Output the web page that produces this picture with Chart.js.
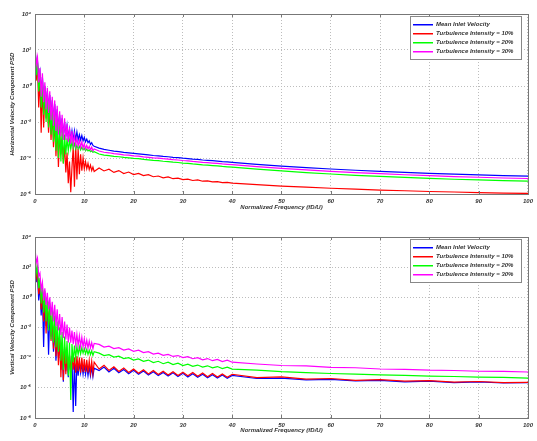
<!DOCTYPE html>
<html>
<head>
<meta charset="utf-8">
<script src="https://cdn.jsdelivr.net/npm/chart.js@4.4.1/dist/chart.umd.min.js"></script>
<style>
  body { margin: 0; background: #fff; }
  .plot { position: absolute; left: 0; width: 537px; }
</style>
</head>
<body>
<div class="plot" style="top:0;height:220px"><canvas id="hChart" width="537" height="220"></canvas></div>
<div class="plot" style="top:220px;height:221px"><canvas id="vChart" width="537" height="221"></canvas></div>
<script>
// normalized frequency fD/U
const freqLow = [0,0.25,0.5,0.75, 1,1.25,1.5,1.75, 2,2.25,2.5,2.75, 3,3.25,3.5,3.75, 4,4.25,4.5,4.75,
  5,5.25,5.5,5.75, 6,6.25,6.5,6.75, 7,7.25,7.5,7.75, 8,8.25,8.5,8.75, 9,9.25,9.5,9.75,
  10,10.25,10.5,10.75, 11,11.25,11.5,11.75, 12];
const freqTail = [13,14,15,16,17,18,19,20,21,22, 23,24,25,26,27,28,29,30,31,32, 33,34,35,36,37,38,39,40,
  45,50,55,60,65,70,75,80,85,90,95,100];
const freq = freqLow.concat(freqTail);

const seriesNames = ['Mean Inlet Velocity', 'Turbulence Intensity = 10%', 'Turbulence Intensity = 20%', 'Turbulence Intensity = 30%'];
const seriesColors = ['#0000ff', '#ff0000', '#00ff00', '#ff00ff'];

// log10(PSD), horizontal component
const hMean = [2.0,1.3,1.4,0.4, 0.8,-0.4,0.5,-0.7, 0.0,-1.1,-0.3,-1.3, -0.5,-1.7,-0.8,-2.0, -1.0,-2.3,-1.3,-2.5,
  -1.6,-2.6,-1.8,-2.8, -2.0,-2.8,-2.2,-2.9, -2.4,-3.0,-2.5,-3.05, -2.5,-3.0,-2.55,-3.0, -2.7,-3.0,-2.75,-3.05,
  -2.85,-3.1,-2.95,-3.15, -3.05,-3.25,-3.15,-3.3, -3.35,
  -3.45,-3.52,-3.57,-3.62,-3.65,-3.69,-3.71,-3.74,-3.77,-3.8,
  -3.83,-3.86,-3.88,-3.91,-3.93,-3.96,-3.98,-4.01,-4.03,-4.06,
  -4.08,-4.11,-4.13,-4.15,-4.17,-4.2,-4.22,-4.24,
  -4.35,-4.45,-4.53,-4.61,-4.68,-4.74,-4.8,-4.85,-4.9,-4.94,-4.98,-5.01];
const hTi10 = [2.1,0.3,1.2,-1.2, 0.6,-2.6,0.1,-2.3, -0.4,-1.8,-0.9,-2.6, -1.2,-3.0,-1.5,-3.4, -1.9,-3.9,-2.2,-4.5,
  -2.6,-3.8,-2.9,-4.3, -3.3,-4.8,-3.7,-5.4, -4.2,-5.9,-4.5,-3.4, -5.6,-3.2,-5.2,-3.5, -4.9,-3.8,-4.7,-4.0,
  -4.6,-4.2,-4.6,-4.3, -4.65,-4.4,-4.7,-4.5, -4.75,
  -4.55,-4.72,-4.62,-4.8,-4.7,-4.86,-4.78,-4.92,-4.86,-4.98,
  -4.93,-5.04,-5.0,-5.1,-5.05,-5.15,-5.12,-5.2,-5.17,-5.25,
  -5.22,-5.29,-5.27,-5.33,-5.31,-5.37,-5.35,-5.4,
  -5.48,-5.56,-5.62,-5.68,-5.73,-5.78,-5.82,-5.86,-5.89,-5.92,-5.95,-5.97];
const hTi20 = [2.0,0.6,1.3,-0.3, 0.7,-1.2,0.3,-1.6, -0.1,-2.0,-0.5,-2.3, -0.8,-2.7,-1.2,-3.1, -1.6,-3.6,-1.9,-4.0,
  -2.2,-4.2,-2.4,-4.3, -2.7,-3.8,-2.9,-3.6, -3.0,-3.5,-3.1,-3.45, -3.2,-3.5,-3.3,-3.5, -3.35,-3.55,-3.4,-3.55,
  -3.45,-3.6,-3.5,-3.6, -3.55,-3.65,-3.6,-3.68, -3.65,
  -3.78,-3.84,-3.87,-3.91,-3.93,-3.97,-3.99,-4.02,-4.04,-4.08,
  -4.1,-4.13,-4.15,-4.18,-4.2,-4.23,-4.25,-4.28,-4.3,-4.33,
  -4.35,-4.38,-4.4,-4.42,-4.44,-4.47,-4.49,-4.51,
  -4.62,-4.72,-4.81,-4.89,-4.96,-5.02,-5.08,-5.13,-5.18,-5.22,-5.26,-5.29];
const hTi30 = [2.3,1.2,1.6,0.2, 1.0,-0.6,0.7,-0.9, 0.2,-1.3,-0.1,-1.5, -0.3,-1.9,-0.6,-2.2, -0.8,-2.5,-1.1,-2.7,
  -1.4,-2.8,-1.6,-3.0, -1.8,-3.0,-2.1,-3.1, -2.3,-3.2,-2.5,-3.25, -2.7,-3.3,-2.9,-3.35, -3.0,-3.4,-3.1,-3.45,
  -3.2,-3.5,-3.3,-3.5, -3.35,-3.55,-3.4,-3.6, -3.5,
  -3.61,-3.68,-3.71,-3.76,-3.78,-3.83,-3.84,-3.88,-3.9,-3.94,
  -3.96,-3.99,-4.01,-4.04,-4.06,-4.09,-4.11,-4.14,-4.16,-4.19,
  -4.21,-4.24,-4.26,-4.28,-4.3,-4.33,-4.35,-4.37,
  -4.48,-4.58,-4.66,-4.74,-4.81,-4.87,-4.93,-4.98,-5.03,-5.07,-5.11,-5.14];

// log10(PSD), vertical component
const vMean = [2.8,1.0,1.6,-0.2, 0.9,-1.2,0.3,-3.3, -0.2,-1.9,-0.6,-3.8, -1.0,-2.6,-1.5,-3.6, -2.0,-4.2,-2.4,-4.0,
  -2.8,-4.8,-3.1,-5.6, -3.4,-4.9,-3.7,-5.3, -3.9,-5.0,-4.0,-7.6, -4.1,-7.2,-4.2,-5.2, -4.3,-5.0,-4.4,-5.1,
  -4.5,-5.1,-4.5,-5.2, -4.6,-5.2,-4.6,-5.25, -4.7,
  -4.85,-4.62,-4.95,-4.7,-5.0,-4.78,-5.06,-4.84,-5.1,-4.88,
  -5.15,-4.93,-5.18,-4.98,-5.22,-5.0,-5.25,-5.04,-5.28,-5.07,
  -5.3,-5.1,-5.33,-5.13,-5.35,-5.15,-5.37,-5.18,
  -5.38,-5.35,-5.47,-5.44,-5.54,-5.5,-5.6,-5.56,-5.65,-5.61,-5.68,-5.66];
const vTi10 = [2.9,1.3,1.8,0.2, 1.1,-0.8,0.6,-1.6, 0.1,-2.4,-0.3,-1.8, -0.7,-2.9,-1.2,-3.4, -1.7,-3.9,-2.2,-4.5,
  -2.6,-5.3,-3.0,-5.5, -3.3,-5.1,-3.6,-5.0, -3.8,-4.9,-3.9,-4.8, -4.0,-5.0,-3.9,-4.9, -4.0,-5.0,-4.0,-4.95,
  -4.1,-4.95,-4.15,-5.0, -4.2,-5.0,-4.25,-5.05, -4.3,
  -4.75,-4.5,-4.85,-4.6,-4.92,-4.68,-4.98,-4.75,-5.03,-4.8,
  -5.08,-4.85,-5.12,-4.9,-5.15,-4.93,-5.18,-4.96,-5.2,-4.99,
  -5.23,-5.02,-5.26,-5.05,-5.28,-5.08,-5.3,-5.1,
  -5.32,-5.28,-5.42,-5.38,-5.5,-5.46,-5.56,-5.52,-5.62,-5.58,-5.66,-5.64];
const vTi20 = [3.0,1.6,2.0,0.6, 1.3,-0.4,0.8,-1.0, 0.4,-1.6,0.0,-2.2, -0.4,-2.8,-0.8,-3.0, -1.2,-3.3,-1.6,-3.6,
  -2.0,-4.2,-2.3,-4.8, -2.6,-4.4,-2.9,-5.2, -3.0,-6.8,-3.1,-4.3, -3.2,-4.0,-3.25,-3.8, -3.3,-3.75,-3.35,-3.7,
  -3.4,-3.75,-3.45,-3.78, -3.5,-3.8,-3.55,-3.85, -3.6,
  -3.7,-3.86,-3.8,-3.96,-3.9,-4.06,-4.0,-4.16,-4.08,-4.24,
  -4.16,-4.32,-4.24,-4.4,-4.3,-4.46,-4.37,-4.52,-4.43,-4.58,
  -4.49,-4.63,-4.54,-4.68,-4.59,-4.72,-4.63,-4.76,
  -4.83,-4.93,-4.99,-5.05,-5.09,-5.14,-5.18,-5.22,-5.25,-5.29,-5.31,-5.35];
const vTi30 = [3.3,2.3,2.6,1.4, 1.6,0.5,1.0,-0.2, 0.6,-0.5,0.3,-0.8, 0.0,-1.2,-0.3,-1.6, -0.5,-1.9,-0.8,-2.2,
  -1.1,-2.5,-1.3,-2.7, -1.6,-2.8,-1.8,-3.0, -2.0,-3.0,-2.2,-3.1, -2.3,-3.15,-2.45,-3.2, -2.55,-3.25,-2.65,-3.3,
  -2.75,-3.3,-2.85,-3.35, -2.9,-3.35,-3.0,-3.4, -3.05,
  -3.12,-3.3,-3.24,-3.4,-3.34,-3.5,-3.42,-3.58,-3.5,-3.66,
  -3.6,-3.76,-3.7,-3.84,-3.78,-3.92,-3.86,-4.0,-3.93,-4.07,
  -4.0,-4.14,-4.06,-4.2,-4.12,-4.26,-4.17,-4.3,
  -4.42,-4.52,-4.55,-4.64,-4.67,-4.75,-4.77,-4.83,-4.85,-4.9,-4.91,-4.95];

// y tick exponents (labels 10^n)
const hTickExp = [4, 2, 0, -2, -4, -6];
const vTickExp = [4, 2, 0, -2, -4, -6, -8];
const xTicks = [0, 10, 20, 30, 40, 50, 60, 70, 80, 90, 100];

const supMap = {'0':'⁰','1':'¹','2':'²','3':'³','4':'⁴','5':'⁵','6':'⁶','7':'⁷','8':'⁸','9':'⁹','-':'⁻'};
function powLabel(e) {
  return '10' + String(e).split('').map(c => supMap[c]).join('');
}

const txtFont = { family: "'Liberation Sans', Arial, sans-serif", size: 6, style: 'italic', weight: 'bold' };
const txtColor = '#333';

const frame = {
  id: 'frame',
  afterDatasetsDraw(chart) {
    const { ctx, chartArea: a } = chart;
    ctx.save();
    ctx.strokeStyle = '#777';
    ctx.lineWidth = 1;
    ctx.strokeRect(a.left + 0.5, a.top + 0.5, a.right - a.left, a.bottom - a.top);
    // small inward ticks like matlab
    ctx.beginPath();
    const xs = chart.scales.x;
    xTicks.forEach(v => {
      const px = Math.round(xs.getPixelForValue(v)) + 0.5;
      ctx.moveTo(px, a.bottom); ctx.lineTo(px, a.bottom - 3);
      ctx.moveTo(px, a.top); ctx.lineTo(px, a.top + 3);
    });
    ctx.stroke();
    ctx.restore();
  }
};

const legendBox = {
  id: 'legendBox',
  afterDraw(chart) {
    const { ctx, chartArea: a } = chart;
    const bx = Math.round(a.right - 118), by = Math.round(a.top + 2), bw = 111, bh = 43;
    ctx.save();
    ctx.fillStyle = '#fff';
    ctx.fillRect(bx, by, bw, bh);
    ctx.strokeStyle = '#888';
    ctx.lineWidth = 1;
    ctx.strokeRect(bx + 0.5, by + 0.5, bw, bh);
    ctx.font = 'italic bold 6px ' + txtFont.family;
    ctx.textBaseline = 'middle';
    chart.data.datasets.forEach((ds, i) => {
      const ry = by + 8 + i * 9;
      ctx.fillStyle = ds.borderColor;
      ctx.fillRect(bx + 3, ry, 20, 1.5);
      ctx.fillStyle = txtColor;
      ctx.fillText(ds.label, bx + 26, ry + 0.5);
    });
    ctx.restore();
  }
};

function makeChart(id, series, tickExp, yTitle, padTop, xHeight, xTitlePad) {
  const datasets = series.map((vals, i) => ({
    label: seriesNames[i],
    data: freq.map((f, j) => ({ x: f, y: Math.pow(10, vals[j]) })),
    borderColor: seriesColors[i],
    borderWidth: 1.2,
    pointRadius: 0,
    tension: 0,
    order: 4 - i  // lowest order is drawn last, so 30% sits on top
  }));
  return new Chart(document.getElementById(id), {
    type: 'line',
    data: { datasets },
    options: {
      responsive: false,
      animation: false,
      devicePixelRatio: 1,
      layout: { padding: { left: 0, right: 2, top: padTop, bottom: 0 } },
      plugins: { legend: { display: false }, tooltip: { enabled: false } },
      scales: {
        x: {
          type: 'linear',
          min: 0,
          max: 100,
          afterBuildTicks: s => { s.ticks = xTicks.map(v => ({ value: v })); },
          afterFit: s => { s.height = xHeight; },
          grid: { color: '#bdbdbd', drawTicks: false },
          border: { display: false, dash: [1, 2] },
          ticks: { font: txtFont, color: txtColor, padding: 4, maxRotation: 0 },
          title: {
            display: true,
            text: 'Normalized Frequency (fD/U)',
            font: txtFont,
            color: txtColor,
            padding: { top: 0, bottom: xTitlePad }
          }
        },
        y: {
          type: 'logarithmic',
          min: Math.pow(10, tickExp[tickExp.length - 1]),
          max: Math.pow(10, tickExp[0]),
          afterBuildTicks: s => { s.ticks = tickExp.map(e => ({ value: Math.pow(10, e) })); },
          afterFit: s => { s.width = 35; },
          grid: { color: '#bdbdbd', drawTicks: false },
          border: { display: false, dash: [1, 2] },
          ticks: {
            font: txtFont,
            color: txtColor,
            padding: 4,
            callback: v => powLabel(Math.round(Math.log10(v)))
          },
          title: {
            display: true,
            text: yTitle,
            font: txtFont,
            color: txtColor,
            padding: { top: 9, bottom: 0 }
          }
        }
      }
    },
    plugins: [frame, legendBox]
  });
}

makeChart('hChart', [hMean, hTi10, hTi20, hTi30], hTickExp, 'Horizontal Velocity Component PSD', 14, 26, 9);
makeChart('vChart', [vMean, vTi10, vTi20, vTi30], vTickExp, 'Vertical Velocity Component PSD', 17, 23, 7);
</script>
</body>
</html>
